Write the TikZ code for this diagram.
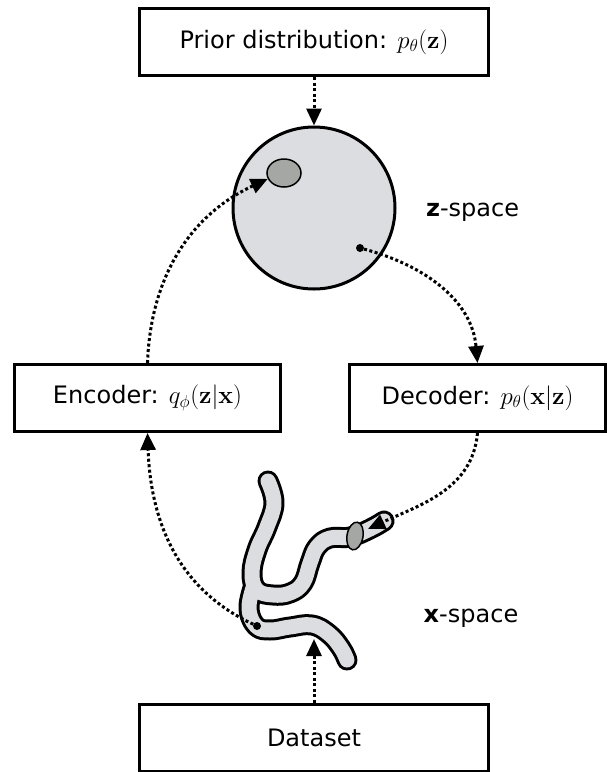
\documentclass[tikz,border=0pt]{standalone}
\usepackage[no-math]{fontspec}
\setmainfont{DejaVu Sans}
\usepackage{amsmath}
\usetikzlibrary{arrows.meta, positioning, shapes.geometric}
\definecolor{spacegray}{RGB}{220,221,224}
\definecolor{blobgray}{RGB}{165,167,165}

\begin{document}
\begin{tikzpicture}[
  x=1pt, y=-1pt,
  font=\fontsize{24}{29}\selectfont,
  box/.style={rectangle, draw, line width=3pt, fill=white, minimum height=67pt, inner sep=0pt},
  latent/.style={circle, draw, line width=3pt, fill=spacegray, minimum size=162pt, inner sep=0pt},
  blob/.style={ellipse, draw, line width=1.5pt, fill=blobgray, inner sep=0pt},
  dot/.style={circle, fill, inner sep=0pt, minimum size=8pt},
  arr/.style={draw, line width=3pt, dash pattern=on 3pt off 2.5pt, -{Triangle[length=17pt, width=15pt]}}
]
\useasboundingbox (0,0) rectangle (606,772);
\node[box, minimum width=349pt] (prior) at (314,42) {Prior distribution: $p_\theta(\mathbf{z})$};
\node[latent, below=48.5pt of prior] (zspace) {};
\node[box, minimum width=266pt] (enc) at (147.5,398) {Encoder: $q_\phi(\mathbf{z}|\mathbf{x})$};
\node[box, minimum width=256pt, right=66pt of enc] (dec) {Decoder: $p_\theta(\mathbf{x}|\mathbf{z})$};
\node[box, minimum width=349pt] (data) at (314,737.5) {Dataset};
% data manifold
\foreach \w/\c in {21pt/black, 15pt/spacegray}
  \draw[line width=\w, \c, line cap=round, line join=round]
    plot[smooth, tension=0.7] coordinates {(268,481) (274,503) (267,527) (257,550) (252,573) (257,590) (273,595) (290,593) (303,583) (310,563) (317,547) (330,538) (350,537) (370,529) (384,521)}
    plot[smooth, tension=0.7] coordinates {(254,585) (249,608) (256,626) (270,630) (290,627) (312,625) (329,634) (341,648) (347,660)};
\node[blob, minimum width=16pt, minimum height=28pt, rotate=-10] (xblob) at (355,536) {};
\node[blob, minimum width=34pt, minimum height=28pt] (zblob) at (284,173) {};
\node[dot] (zdot) at (360,248) {};
\node[dot] (xdot) at (257,626) {};
\coordinate (xin) at (368,529);
\coordinate (xbase) at (314,639);
\node[right=26pt of zspace, yshift=-4pt] (zlabel) {\textbf{z}-space};
\node (xlabel) at (471,618) {\textbf{x}-space};
\draw[arr] (prior) -- (zspace);
\draw[arr] (zdot) to[out=-15, in=95] (dec.north);
\draw[arr] (dec.south) to[out=-95, in=25] (xin);
\draw[arr] (xdot) to[out=155, in=-88] (enc.south);
\draw[arr] (enc.north) to[out=88, in=205] (zblob.200);
\draw[arr] (data) -- (xbase);
\end{tikzpicture}
\end{document}
